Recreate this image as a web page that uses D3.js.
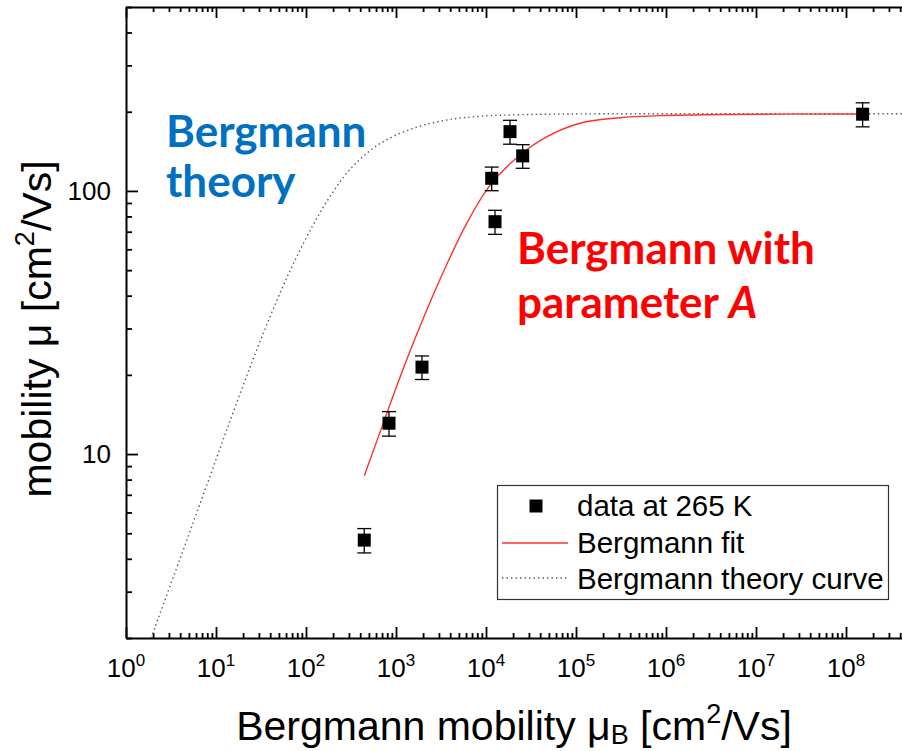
<!DOCTYPE html>
<html>
<head>
<meta charset="utf-8">
<script src="https://cdn.jsdelivr.net/npm/d3@7"></script>
<style>
  body { margin: 0; background: #fff; }
  svg { display: block; }
  .sans { font-family: "Liberation Sans", Arial, sans-serif; }
</style>
</head>
<body>
<svg id="chart" width="902" height="751"></svg>
<script>
// Measured mobility at 265 K versus Bergmann mobility (cm^2/Vs)
const muB   = [444, 836, 1944, 11570, 12590, 18480, 25570, 1.53e8];
const mu    = [4.71, 13.1, 21.4, 111.7, 76.4, 168, 135.9, 195.7];
const muErr = [0.5, 1.4, 2.2, 11.5, 8, 17.5, 14, 20.5];

// Bergmann fit with parameter A
const fitMuB = [444, 722, 1108, 2011, 3658, 6105, 11080, 23870, 47220, 110700, 308000, 857000, 3.98e6, 1.53e8];
const fitMu  = [8.27, 13.1, 19.6, 32.8, 52.5, 75.3, 105, 137, 160.6, 180.8, 189.7, 193.2, 195.3, 196];

// Bergmann theory curve
const theoryMuB = [1.9, 3.98, 7.88, 13.1, 24.9, 47.2, 72.2, 120.5, 201, 335, 664, 1556, 3656, 8580, 23870, 110700, 1e9];
const theoryMu  = [2.0, 4.0, 7.6, 12.3, 22.2, 38.2, 52.8, 74.5, 99.5, 124.5, 151.3, 173, 186, 192.2, 194.8, 196.2, 196.4];

// Axis labels
const xTickExponents = [0, 1, 2, 3, 4, 5, 6, 7, 8];
const yTickLabels = [10, 100];
const legendLabels = ["data at 265 K", "Bergmann fit", "Bergmann theory curve"];

const svg = d3.select("#chart");
const pLeft = 126, pTop = 7, pBottom = 638, pRight = 936;

const x = d3.scaleLog().domain([1, 1e9]).range([pLeft, pRight]);
const y = d3.scaleLog().domain([2, 500]).range([pBottom, pTop]);

const isMajor = v => Math.abs(Math.log10(v) - Math.round(Math.log10(v))) < 1e-9;

svg.append("defs").append("clipPath").attr("id", "plot")
  .append("rect").attr("x", pLeft).attr("y", pTop)
  .attr("width", pRight - pLeft).attr("height", pBottom - pTop);

// ---- axes (ticks point into the plot) ----
function styleAxis(g) {
  g.selectAll("path.domain").attr("stroke", "#000").attr("stroke-width", 2);
  g.selectAll(".tick line").attr("stroke", "#000").attr("stroke-width", 1.8);
  g.selectAll(".tick text").remove();
}
function drawAxis(makeAxis, scale, translate, majLen, minLen) {
  const ticks = scale.ticks();
  const gMin = svg.append("g").attr("transform", translate)
    .call(makeAxis(scale).tickValues(ticks.filter(v => !isMajor(v)))
      .tickSize(-minLen).tickSizeOuter(0).tickFormat(""));
  styleAxis(gMin);
  gMin.select("path.domain").remove();
  const gMaj = svg.append("g").attr("transform", translate)
    .call(makeAxis(scale).tickValues(ticks.filter(isMajor))
      .tickSize(-majLen).tickSizeOuter(0).tickFormat(""));
  styleAxis(gMaj);
}

drawAxis(d3.axisBottom, x, `translate(0,${pBottom})`, 11, 5);
drawAxis(d3.axisTop, x, `translate(0,${pTop})`, 11, 5);
drawAxis(d3.axisLeft, y, `translate(${pLeft},0)`, 12, 6);

// x tick labels: powers of ten
const xLab = svg.append("g").attr("class", "sans");
xTickExponents.forEach(e => {
  const t = xLab.append("text").attr("x", x(Math.pow(10, e))).attr("y", 677)
    .attr("text-anchor", "middle").attr("font-size", 26).attr("fill", "#000");
  t.append("tspan").text("10");
  t.append("tspan").attr("dy", -11).attr("font-size", 17).text(e);
});

// y tick labels
svg.append("g").attr("class", "sans").selectAll("text").data(yTickLabels).join("text")
  .attr("x", 111).attr("y", d => y(d) + 9)
  .attr("text-anchor", "end").attr("font-size", 26).attr("fill", "#000")
  .text(d => d);

// axis titles
const xt = svg.append("text").attr("class", "sans").attr("x", 514).attr("y", 740)
  .attr("text-anchor", "middle").attr("font-size", 41).attr("fill", "#000");
xt.append("tspan").text("Bergmann mobility \u03bc");
xt.append("tspan").attr("dy", 4).attr("font-size", 27).text("B");
xt.append("tspan").attr("dy", -4).text(" [cm");
xt.append("tspan").attr("dy", -17).attr("font-size", 27).text("2");
xt.append("tspan").attr("dy", 17).text("/Vs]");

const yt = svg.append("text").attr("class", "sans")
  .attr("transform", "translate(51,329) rotate(-90)")
  .attr("text-anchor", "middle").attr("font-size", 41).attr("fill", "#000");
yt.append("tspan").text("mobility \u03bc [cm");
yt.append("tspan").attr("dy", -17).attr("font-size", 27).text("2");
yt.append("tspan").attr("dy", 17).text("/Vs]");

// ---- curves ----
const plot = svg.append("g").attr("clip-path", "url(#plot)");
const line = d3.line().x(d => x(d[0])).y(d => y(d[1])).curve(d3.curveCatmullRom.alpha(0.5));

plot.append("path").datum(d3.zip(theoryMuB, theoryMu))
  .attr("d", line).attr("fill", "none")
  .attr("stroke", "#555").attr("stroke-width", 1.4).attr("stroke-dasharray", "1.4,3.1");

plot.append("path").datum(d3.zip(fitMuB, fitMu))
  .attr("d", line).attr("fill", "none")
  .attr("stroke", "#ff3030").attr("stroke-width", 1.4);

// ---- data with error bars ----
const pts = plot.append("g").selectAll("g").data(d3.range(muB.length)).join("g");
pts.append("line")
  .attr("x1", i => x(muB[i])).attr("x2", i => x(muB[i]))
  .attr("y1", i => y(mu[i] + muErr[i])).attr("y2", i => y(mu[i] - muErr[i]))
  .attr("stroke", "#000").attr("stroke-width", 1.3);
[1, -1].forEach(s => {
  pts.append("line")
    .attr("x1", i => x(muB[i]) - 7).attr("x2", i => x(muB[i]) + 7)
    .attr("y1", i => y(mu[i] + s * muErr[i])).attr("y2", i => y(mu[i] + s * muErr[i]))
    .attr("stroke", "#000").attr("stroke-width", 1.3);
});
pts.append("rect")
  .attr("x", i => x(muB[i]) - 6.5).attr("y", i => y(mu[i]) - 6.5)
  .attr("width", 13).attr("height", 13).attr("fill", "#000");

// ---- annotations ----
const ann = (txt, xp, yp, color) => svg.append("text").attr("x", xp).attr("y", yp)
  .attr("font-family", "Lato, 'Open Sans', sans-serif").attr("font-weight", 700)
  .attr("font-size", 44).attr("fill", color).text(txt);
ann("Bergmann", 166, 147, "#0070c0");
ann("theory", 166, 197, "#0070c0");
ann("Bergmann with", 517, 264, "#ff0000");
const pa = ann("parameter ", 517, 318, "#ff0000");
pa.append("tspan").attr("font-style", "italic").text("A");

// ---- legend ----
const lg = svg.append("g").attr("class", "sans");
lg.append("rect").attr("x", 497.5).attr("y", 485.5).attr("width", 391).attr("height", 114)
  .attr("fill", "#fff").attr("stroke", "#333").attr("stroke-width", 1.2);
lg.append("rect").attr("x", 529.5).attr("y", 499.5).attr("width", 13).attr("height", 13).attr("fill", "#000");
lg.append("line").attr("x1", 502).attr("x2", 568).attr("y1", 543).attr("y2", 543)
  .attr("stroke", "#ff3030").attr("stroke-width", 1.4);
lg.append("line").attr("x1", 502).attr("x2", 568).attr("y1", 578).attr("y2", 578)
  .attr("stroke", "#555").attr("stroke-width", 1.4).attr("stroke-dasharray", "1.4,3.1");
lg.selectAll("text.lab").data(legendLabels).join("text").attr("class", "lab")
  .attr("x", 577).attr("y", (d, i) => 516 + i * 36.5)
  .attr("font-size", 29.5).attr("fill", "#000").text(d => d);
</script>
</body>
</html>
